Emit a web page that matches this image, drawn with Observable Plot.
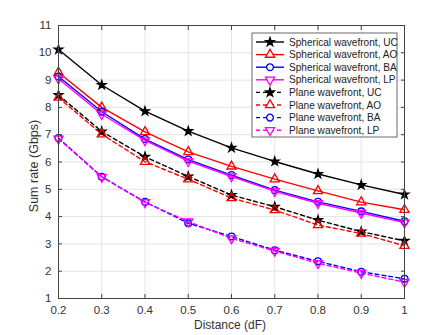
<!DOCTYPE html>
<html><head><meta charset="utf-8">
<script src="https://cdn.jsdelivr.net/npm/d3@7"></script>
<script src="https://cdn.jsdelivr.net/npm/@observablehq/plot@0.6"></script>
<style>
body{margin:0;background:#fff;font-family:"Liberation Sans",Arial,sans-serif;}
#chart{position:relative;width:447px;height:335px;}
</style></head>
<body><div id="chart"></div>
<script>
const distance = [0.2,0.3,0.4,0.5,0.6,0.7,0.8,0.9,1.0];
const sphUC = [10.12,8.82,7.86,7.13,6.52,6.02,5.56,5.16,4.81];
const sphAO = [9.28,8.00,7.10,6.37,5.84,5.37,4.94,4.53,4.25];
const sphBA = [9.13,7.84,6.84,6.09,5.52,4.97,4.54,4.19,3.83];
const sphLP = [9.05,7.75,6.79,6.03,5.47,4.93,4.49,4.13,3.78];
const plaUC = [8.45,7.12,6.19,5.47,4.79,4.36,3.87,3.45,3.11];
const plaAO = [8.36,7.02,6.01,5.37,4.68,4.24,3.69,3.38,2.93];
const plaBA = [6.88,5.46,4.54,3.76,3.27,2.77,2.36,1.98,1.72];
const plaLP = [6.85,5.45,4.52,3.82,3.20,2.74,2.29,1.93,1.60];
const seriesNames = ["Spherical wavefront, UC","Spherical wavefront, AO","Spherical wavefront, BA","Spherical wavefront, LP","Plane wavefront, UC","Plane wavefront, AO","Plane wavefront, BA","Plane wavefront, LP"];
const xTicks = [0.2,0.3,0.4,0.5,0.6,0.7,0.8,0.9,1];
const yTicks = [1,2,3,4,5,6,7,8,9,10,11];

const triDown = {draw(ctx, size){ const s=Math.sqrt(size/(Math.sqrt(3)/4)); const h=s*Math.sqrt(3)/2; ctx.moveTo(0,h*2/3); ctx.lineTo(s/2,-h/3); ctx.lineTo(-s/2,-h/3); ctx.closePath(); }};
const triUp = {draw(ctx, size){ const s=Math.sqrt(size/(Math.sqrt(3)/4)); const h=s*Math.sqrt(3)/2; ctx.moveTo(0,-h*2/3); ctx.lineTo(s/2,h/3); ctx.lineTo(-s/2,h/3); ctx.closePath(); }};

const styles = [
  {color:"#000000", sym:d3.symbolStar, r:2.7, fill:true, dash:null},
  {color:"#ff0000", sym:triUp, r:3.4, fill:false, dash:null},
  {color:"#0000ff", sym:d3.symbolCircle, r:3.4, fill:false, dash:null},
  {color:"#ff00ff", sym:triDown, r:3.4, fill:false, dash:null},
  {color:"#000000", sym:d3.symbolStar, r:2.7, fill:true, dash:"4,3"},
  {color:"#ff0000", sym:triUp, r:3.4, fill:false, dash:"4,3"},
  {color:"#0000ff", sym:d3.symbolCircle, r:3.4, fill:false, dash:"4,3"},
  {color:"#ff00ff", sym:triDown, r:3.4, fill:false, dash:"4,3"}
];
const allVals = [sphUC,sphAO,sphBA,sphLP,plaUC,plaAO,plaBA,plaLP];
const data = allVals.map((vals,i)=>distance.map((d,j)=>({x:d,y:vals[j],s:seriesNames[i]})));

const marks = [
  Plot.gridX(xTicks,{stroke:"#e3e3e3",strokeOpacity:1}),
  Plot.gridY(yTicks,{stroke:"#e3e3e3",strokeOpacity:1}),
];
data.forEach((d,i)=>{
  const st = styles[i];
  marks.push(Plot.line(d,{x:"x",y:"y",stroke:st.color,strokeWidth:1.4,strokeDasharray:st.dash}));
});
data.forEach((d,i)=>{
  const st = styles[i];
  marks.push(Plot.dot(d,{x:"x",y:"y",symbol:st.sym,r:st.r,stroke:st.color,fill:st.fill?st.color:"none",strokeWidth:1.3}));
});
marks.push(
  Plot.axisX(xTicks,{anchor:"bottom",tickSize:-4,tickPadding:11,tickFormat:d=>String(d),stroke:"#444",fill:"#333",fontSize:11.5,label:null}),
  Plot.axisX(xTicks,{anchor:"top",tickSize:-4,tickFormat:()=>"",stroke:"#444",label:null}),
  Plot.axisY(yTicks,{anchor:"left",tickSize:-4,tickPadding:11,stroke:"#444",fill:"#333",fontSize:11.5,label:null}),
  Plot.axisY(yTicks,{anchor:"right",tickSize:-4,tickFormat:()=>"",stroke:"#444",label:null}),
  Plot.frame({stroke:"#444"})
);

const plot = Plot.plot({
  width:447,height:335,
  marginLeft:58,marginRight:43,marginTop:25,marginBottom:37,
  x:{domain:[0.2,1]},
  y:{domain:[1,11]},
  style:{fontFamily:"Liberation Sans, Arial, sans-serif",fontSize:"11px",color:"#333"},
  marks
});
document.getElementById("chart").appendChild(plot);

const svg = d3.select(plot);
svg.append("text").attr("x",230).attr("y",329).attr("text-anchor","middle").attr("font-size",12).attr("fill","#333").text("Distance (dF)");
svg.append("text").attr("transform","translate(34,166) rotate(-90)").attr("dy","0.35em").attr("text-anchor","middle").attr("font-size",12.5).attr("fill","#333").text("Sum rate (Gbps)");

// legend
const lg = svg.append("g").attr("transform","translate(252,33)");
lg.append("rect").attr("width",145).attr("height",104).attr("fill","#fff").attr("stroke","#444").attr("stroke-width",0.8);
seriesNames.forEach((name,i)=>{
  const st = styles[i];
  const yy = 9 + i*12.6;
  const g = lg.append("g").attr("transform",`translate(0,${yy})`);
  g.append("line").attr("x1",4).attr("x2",32).attr("y1",0).attr("y2",0).attr("stroke",st.color).attr("stroke-width",1.4).attr("stroke-dasharray",st.dash||null);
  g.append("path").attr("transform","translate(18,0)").attr("d",d3.symbol(st.sym,st.r*st.r*Math.PI)()).attr("stroke",st.color).attr("fill",st.fill?st.color:"#fff").attr("stroke-width",1.3);
  g.append("text").attr("x",37).attr("y",0).attr("dy","0.35em").attr("text-anchor","start").attr("font-size",10.1).attr("fill","#222").text(name);
});
</script></body></html>
